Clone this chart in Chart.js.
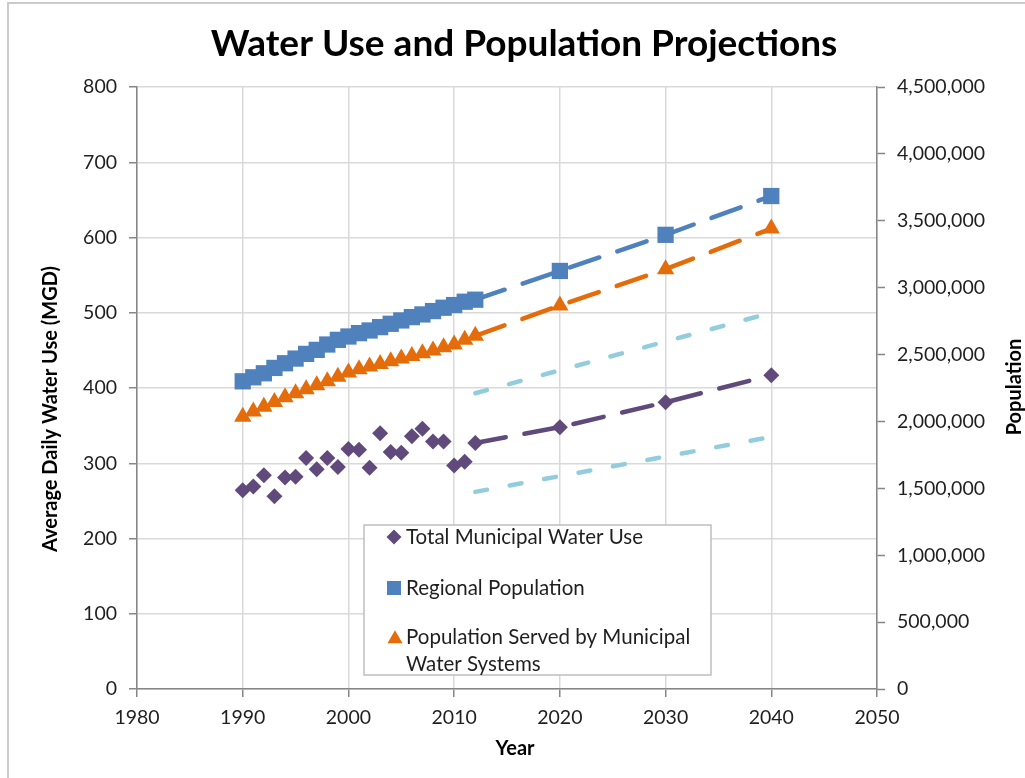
<!DOCTYPE html>
<html>
<head>
<meta charset="utf-8">
<title>Water Use and Population Projections</title>
<script src="https://cdn.jsdelivr.net/npm/chart.js@4.4.1/dist/chart.umd.min.js"></script>
<style>
  html, body { margin: 0; padding: 0; background: #ffffff; }
  #wrap { position: relative; width: 1025px; height: 778px; overflow: hidden; }
  #chart { position: absolute; left: 0; top: 0; }
  #frame {
    position: absolute; left: 7px; top: 2px; width: 1030px; height: 790px;
    border-left: 2px solid #cbcbcb; border-top: 2px solid #cbcbcb;
    pointer-events: none;
  }
</style>
</head>
<body>
<div id="wrap">
  <canvas id="chart" width="1025" height="778"></canvas>
  <div id="frame"></div>
</div>
<script>
// Measured years and the long-range planning years
const historicYears = [1990, 1991, 1992, 1993, 1994, 1995, 1996, 1997, 1998, 1999, 2000,
                       2001, 2002, 2003, 2004, 2005, 2006, 2007, 2008, 2009, 2010, 2011, 2012];
const projectionYears = [2020, 2030, 2040];
const allYears = historicYears.concat(projectionYears);

// Total municipal water use, million gallons per day
const waterUseMGD = [264, 269, 284, 256, 281, 282, 307, 292, 307, 295, 319,
                     318, 294, 340, 315, 314, 336, 346, 329, 329, 297, 302, 327,
                     348, 381, 417];

// Regional population
const regionalPopulation = [2300000, 2330000, 2360000, 2400000, 2435000, 2470000, 2505000,
                            2535000, 2575000, 2610000, 2635000, 2660000, 2680000, 2705000,
                            2730000, 2755000, 2780000, 2800000, 2825000, 2850000, 2870000,
                            2895000, 2910000,
                            3125000, 3395000, 3685000];

// Population served by municipal water systems
const servedPopulation = [2035000, 2075000, 2110000, 2145000, 2180000, 2210000, 2240000,
                          2270000, 2300000, 2335000, 2365000, 2390000, 2410000, 2430000,
                          2450000, 2470000, 2490000, 2510000, 2530000, 2555000, 2575000,
                          2610000, 2640000,
                          2867000, 3138000, 3442000];

// High / low range of projected water use
const rangeYears = [2012, 2040];
const waterUseHigh = [393, 500];
const waterUseLow = [262, 335];

// Tick labels
const yearTicks = [1980, 1990, 2000, 2010, 2020, 2030, 2040, 2050];
const waterUseTicks = [0, 100, 200, 300, 400, 500, 600, 700, 800];
const populationTicks = [0, 500000, 1000000, 1500000, 2000000, 2500000, 3000000, 3500000, 4000000, 4500000];

const LAST_MEASURED_YEAR = 2012;

const PURPLE = '#604a7b';
const BLUE = '#4f81bd';
const ORANGE = '#e46c0a';
const AQUA = '#93cddd';
const GRID = '#d9d9d9';
const AXIS = '#868686';
const TEXT = '#1f1f1f';
const FONT = 'Lato, "Open Sans", sans-serif';
const TICK_SIZE = 19.5;

function toPoints(xs, ys) {
  return xs.map((x, i) => ({ x: x, y: ys[i] }));
}

// Observed years are shown as markers only; the dashed line starts at the last measured year.
function projectedSegment(color) {
  return ctx => (ctx.p0.parsed.x < LAST_MEASURED_YEAR ? 'rgba(0,0,0,0)' : color);
}

function seriesDataset(label, values, axis, color, style, radius) {
  return {
    label: label,
    data: toPoints(allYears, values),
    yAxisID: axis,
    showLine: true,
    borderColor: color,
    borderWidth: 4.5,
    borderDash: [31, 19],
    borderCapStyle: 'round',
    segment: { borderColor: projectedSegment(color) },
    pointStyle: style,
    pointRadius: radius,
    pointHoverRadius: radius,
    pointBackgroundColor: color,
    pointBorderColor: color,
    pointBorderWidth: 0
  };
}

function rangeDataset(label, values) {
  return {
    label: label,
    data: toPoints(rangeYears, values),
    yAxisID: 'use',
    showLine: true,
    borderColor: AQUA,
    borderWidth: 4.5,
    borderDash: [12, 23],
    borderCapStyle: 'round',
    pointRadius: 0,
    pointHoverRadius: 0
  };
}

function fixedTicks(values) {
  return scale => { scale.ticks = values.map(v => ({ value: v })); };
}

const legendEntries = [
  { lines: ['Total Municipal Water Use'], color: PURPLE, style: 'rectRot', radius: 7.5, mx: 394, my: 537 },
  { lines: ['Regional Population'], color: BLUE, style: 'rect', radius: 9.9, mx: 394, my: 588 },
  { lines: ['Population Served by Municipal', 'Water Systems'], color: ORANGE, style: 'triangle', radius: 8.7, mx: 395, my: 639 }
];
const legendTextY = [[537], [588], [637, 664]];

function drawMarker(ctx, style, radius, x, y) {
  const helpers = Chart.helpers;
  if (helpers && helpers.drawPoint) {
    helpers.drawPoint(ctx, { pointStyle: style, radius: radius, borderWidth: 0, rotation: 0 }, x, y);
    return;
  }
  ctx.beginPath();
  if (style === 'rect') {
    const s = radius * Math.SQRT1_2;
    ctx.rect(x - s, y - s, 2 * s, 2 * s);
  } else if (style === 'rectRot') {
    ctx.moveTo(x, y - radius); ctx.lineTo(x + radius, y);
    ctx.lineTo(x, y + radius); ctx.lineTo(x - radius, y);
  } else {
    ctx.moveTo(x, y - radius);
    ctx.lineTo(x + radius * Math.sin(Math.PI / 3), y + radius / 2);
    ctx.lineTo(x - radius * Math.sin(Math.PI / 3), y + radius / 2);
  }
  ctx.closePath();
  ctx.fill();
}

const annotationPlugin = {
  id: 'chartTexts',
  afterDraw(chart) {
    const ctx = chart.ctx;
    ctx.save();

    // Title
    ctx.fillStyle = '#000000';
    ctx.font = 'bold 37px ' + FONT;
    ctx.textAlign = 'center';
    ctx.textBaseline = 'alphabetic';
    ctx.fillText('Water Use and Population Projections', 524, 56);

    // Axis titles
    ctx.font = 'bold 20px ' + FONT;
    ctx.textBaseline = 'middle';
    ctx.fillText('Year', 515, 749);

    ctx.save();
    ctx.translate(51, 409);
    ctx.rotate(-Math.PI / 2);
    ctx.fillText('Average Daily Water Use (MGD)', 0, 0);
    ctx.restore();

    ctx.save();
    ctx.translate(1015, 387);
    ctx.rotate(-Math.PI / 2);
    ctx.fillText('Population', 0, 0);
    ctx.restore();

    // Legend
    const box = { left: 364, top: 525, right: 711, bottom: 675 };
    ctx.fillStyle = '#ffffff';
    ctx.fillRect(box.left, box.top, box.right - box.left, box.bottom - box.top);
    ctx.strokeStyle = '#bfbfbf';
    ctx.lineWidth = 1.5;
    ctx.strokeRect(box.left, box.top, box.right - box.left, box.bottom - box.top);

    ctx.font = '20.5px ' + FONT;
    ctx.textAlign = 'left';
    ctx.textBaseline = 'middle';
    legendEntries.forEach((entry, i) => {
      ctx.fillStyle = entry.color;
      drawMarker(ctx, entry.style, entry.radius, entry.mx, entry.my);
      ctx.fillStyle = TEXT;
      entry.lines.forEach((line, j) => {
        ctx.fillText(line, 406, legendTextY[i][j]);
      });
    });

    ctx.restore();
  }
};

new Chart(document.getElementById('chart'), {
  type: 'scatter',
  data: {
    datasets: [
      rangeDataset('Projected water use, high', waterUseHigh),
      rangeDataset('Projected water use, low', waterUseLow),
      seriesDataset('Total Municipal Water Use', waterUseMGD, 'use', PURPLE, 'rectRot', 8),
      seriesDataset('Regional Population', regionalPopulation, 'pop', BLUE, 'rect', 11.5),
      seriesDataset('Population Served by Municipal Water Systems', servedPopulation, 'pop', ORANGE, 'triangle', 10)
    ]
  },
  options: {
    responsive: false,
    devicePixelRatio: 1,
    animation: false,
    events: [],
    layout: { padding: { top: 87, left: 0, right: 0, bottom: 0 } },
    plugins: {
      legend: { display: false },
      title: { display: false },
      tooltip: { enabled: false }
    },
    scales: {
      x: {
        type: 'linear',
        position: 'bottom',
        min: 1980,
        max: 2050,
        afterBuildTicks: fixedTicks(yearTicks),
        afterFit: scale => { scale.height = 89; },
        grid: { color: GRID, lineWidth: 1.5, tickColor: AXIS, tickLength: 8, tickWidth: 1.5 },
        border: { display: true, color: AXIS, width: 1.5 },
        ticks: {
          padding: 9,
          maxRotation: 0,
          color: TEXT,
          font: { family: FONT, size: TICK_SIZE },
          callback: v => String(v)
        }
      },
      use: {
        type: 'linear',
        position: 'left',
        min: 0,
        max: 800,
        afterBuildTicks: fixedTicks(waterUseTicks),
        afterFit: scale => { scale.width = 137; },
        grid: { color: GRID, lineWidth: 1.5, tickColor: AXIS, tickLength: 8, tickWidth: 1.5 },
        border: { display: true, color: AXIS, width: 1.5 },
        ticks: {
          padding: 12,
          color: TEXT,
          font: { family: FONT, size: TICK_SIZE },
          callback: v => String(v)
        }
      },
      pop: {
        type: 'linear',
        position: 'right',
        min: 0,
        max: 4500000,
        afterBuildTicks: fixedTicks(populationTicks),
        afterFit: scale => { scale.width = 148; },
        grid: { drawOnChartArea: false, tickColor: AXIS, tickLength: 8, tickWidth: 1.5 },
        border: { display: true, color: AXIS, width: 1.5 },
        ticks: {
          padding: 12,
          color: TEXT,
          font: { family: FONT, size: TICK_SIZE },
          callback: v => v.toLocaleString('en-US')
        }
      }
    }
  },
  plugins: [annotationPlugin]
});
</script>
</body>
</html>
